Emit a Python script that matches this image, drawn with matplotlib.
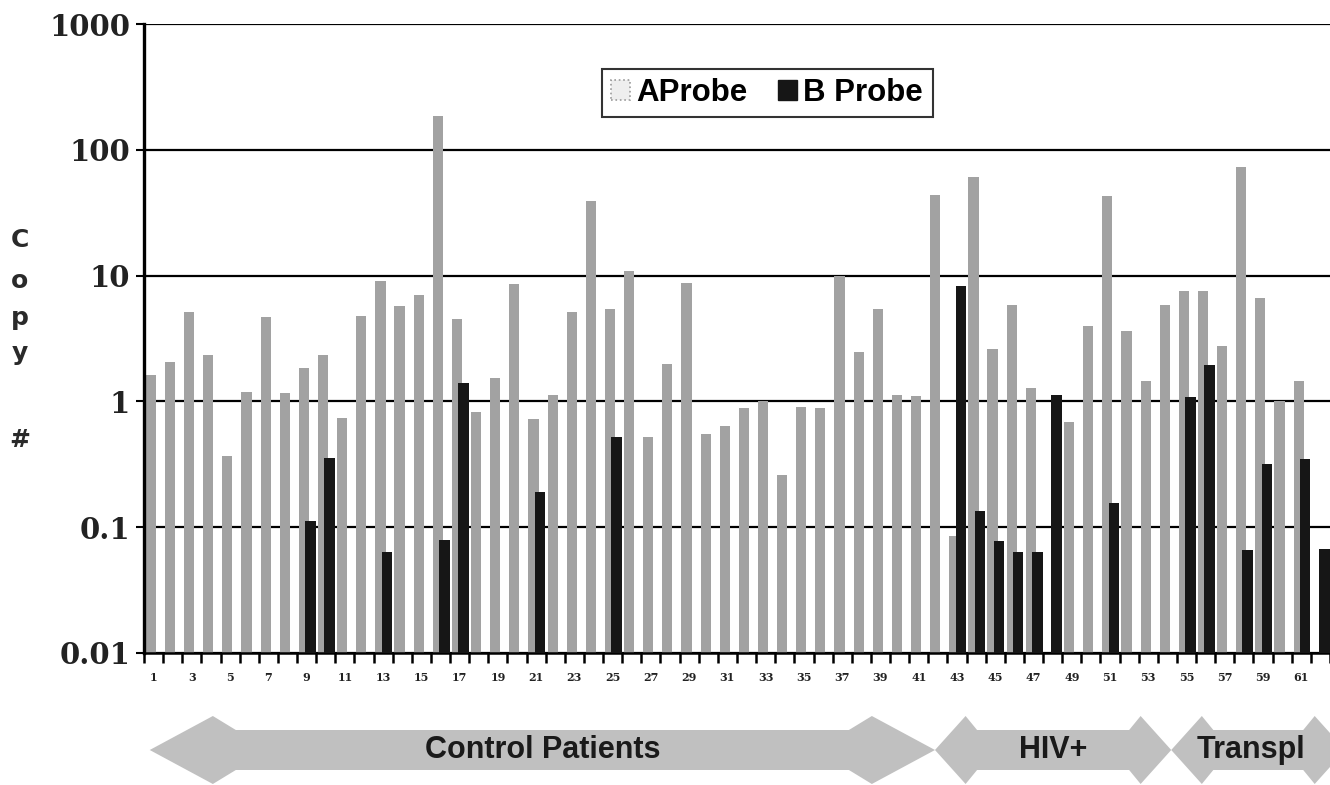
import numpy as np
import matplotlib.pyplot as plt
from matplotlib.patches import Polygon, Patch
import matplotlib.transforms as mtransforms

nan = np.nan

# patient numbers on the x axis
patients = list(range(1, 63))

# copy numbers (nan = no bar)
a_probe = [1.62, 2.05, 5.1, 2.35, 0.37, 1.18, 4.7, 1.17, 1.85, 2.35,
           0.74, 4.8, 9.1, 5.7, 7.0, 186, 4.5, 0.83, 1.53, 8.6,
           0.73, 1.12, 5.1, 39, 5.4, 10.8, 0.52, 2.0, 8.8, 0.55,
           0.64, 0.88, 1.0, 0.26, 0.9, 0.88, 10.0, 2.45, 5.4, 1.12,
           1.1, 43.5, 0.085, 61, 2.6, 5.8, 1.28, nan, 0.68, 4.0,
           43, 3.6, 1.45, 5.8, 7.5, 7.5, 2.75, 73, 6.6, 1.0,
           1.45, nan]
b_probe = [nan] * 62
for p, v in [(9, 0.112), (10, 0.355), (13, 0.064), (16, 0.079), (17, 1.4),
             (21, 0.19), (25, 0.52), (43, 8.2), (44, 0.134), (45, 0.077),
             (46, 0.064), (47, 0.064), (48, 1.12), (51, 0.155), (55, 1.08),
             (56, 1.95), (58, 0.066), (59, 0.32), (61, 0.35), (62, 0.067)]:
    b_probe[p - 1] = v

# patient groups (arrows under the axis), in patient units
groups = ["Control Patients", "HIV+", "Transpl"]
group_spans = [(0.8, 41.85), (41.85, 54.2), (54.2, 63.3)]
head_lengths = [(3.3, 4.5), (1.6, 2.2), (1.6, 2.2)]

yticks = [0.01, 0.1, 1, 10, 100, 1000]
ytick_labels = ["0.01", "0.1", "1", "10", "100", "1000"]

fig = plt.figure(figsize=(13.3, 7.85), dpi=100)
ax = fig.add_axes([144 / 1330, 132 / 785, 1 - 144 / 1330, 629 / 785])

x = np.array(patients, dtype=float)
ax.bar(x - 0.14, a_probe, width=0.53, color="#a2a2a2", zorder=2)
ax.bar(x + 0.2, b_probe, width=0.55, color="#161616", zorder=3)

ax.set_yscale("log")
ax.set_ylim(0.01, 1000)
ax.set_xlim(0.5, 62.5)
ax.yaxis.set_minor_locator(plt.NullLocator())
ax.set_yticks(yticks)
ax.set_yticklabels(ytick_labels, fontsize=21, fontweight="bold",
                   family="DejaVu Serif", color="#222222")
ax.tick_params(axis="y", direction="out", length=6, width=1.5, pad=4)
ax.yaxis.grid(True, color="black", lw=1.6, zorder=1)
ax.set_axisbelow(True)

# x: tick marks at patient boundaries, labels for odd patients
ax.set_xticks(x[::2])
ax.set_xticklabels([str(p) for p in patients[::2]], fontsize=8,
                   fontweight="bold", family="DejaVu Serif", color="#222222")
ax.set_xticks(np.arange(0.5, 63, 1.0), minor=True)
ax.tick_params(axis="x", which="major", length=0, pad=14)
ax.tick_params(axis="x", which="minor", direction="out", length=7, width=1.8)

for s in ["top", "right"]:
    ax.spines[s].set_visible(False)
ax.spines["left"].set_linewidth(2.4)
ax.spines["bottom"].set_linewidth(1.8)

# vertical "Copy #" label
for ch, yy in [("C", 240), ("o", 281), ("p", 318), ("y", 353), ("#", 440)]:
    fig.text(20 / 1330, 1 - yy / 785, ch, fontsize=18, fontweight="bold",
             color="#2a2a2a", ha="center", va="center", family="DejaVu Sans")

leg_handles = [Patch(facecolor="#eeeeee", edgecolor="#9a9a9a", linestyle=":",
                     lw=1.2),
               Patch(facecolor="#161616", edgecolor="#161616")]
leg = fig.legend(leg_handles, ["AProbe", "B Probe"], loc="center",
                 bbox_to_anchor=(767 / 1330, 1 - 93 / 785), ncol=2,
                 prop={"family": "Liberation Sans", "weight": "bold", "size": 22.5},
                 frameon=True, fancybox=False, edgecolor="black",
                 handlelength=0.6, handleheight=0.6, handletextpad=0.2,
                 columnspacing=1.0, borderpad=0.3, borderaxespad=0)
leg.get_frame().set_linewidth(1.5)

# block arrows for patient groups
trans = mtransforms.blended_transform_factory(ax.transData, fig.transFigure)
yc = 35 / 785
hh = 34 / 785
bh = 20 / 785
for name, (x0, x1), (l1, l2) in zip(groups, group_spans, head_lengths):
    pts = [(x0, yc), (x0 + l1, yc + hh), (x0 + l2, yc + bh),
           (x1 - l2, yc + bh), (x1 - l1, yc + hh), (x1, yc),
           (x1 - l1, yc - hh), (x1 - l2, yc - bh), (x0 + l2, yc - bh),
           (x0 + l1, yc - hh)]
    poly = Polygon(pts, closed=True, transform=trans, facecolor="#c0c0c0",
                   edgecolor="none", clip_on=False)
    fig.add_artist(poly)
    xm = (x0 + min(x1, 62.5)) / 2
    fig.text(xm, yc, name, transform=trans, ha="center", va="center",
             fontsize=22, fontweight="bold", family="Liberation Sans",
             color="#1a1a1a")

fig.savefig("out.png", dpi=100)
